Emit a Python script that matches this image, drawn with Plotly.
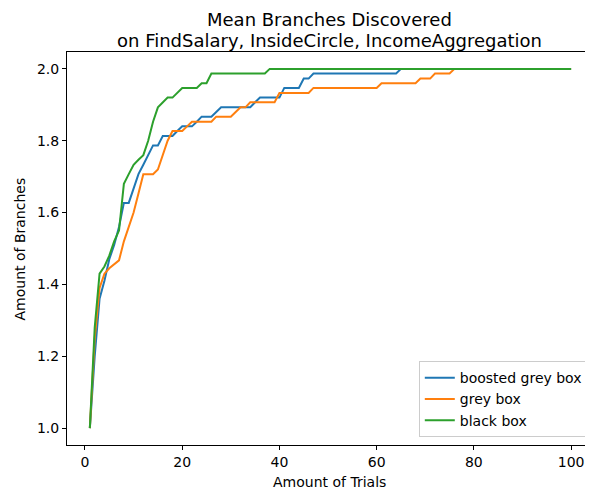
import plotly.graph_objects as go

trials = list(range(1, 101))

boosted_grey_box = (
    [1.0, 1.2, 1.36, 1.41, 1.47, 1.51, 1.56, 1.627, 1.627, 1.667,
     1.707, 1.733, 1.76, 1.787, 1.787, 1.813, 1.813, 1.813, 1.827, 1.84,
     1.84, 1.84, 1.853, 1.867, 1.867, 1.867, 1.88]
    + [1.893] * 7          # 28-34
    + [1.907]              # 35
    + [1.92] * 5           # 36-40
    + [1.947] * 4          # 41-44
    + [1.973] * 2          # 45-46
    + [1.987] * 18         # 47-64
    + [2.0] * 36           # 65-100
)

grey_box = (
    [1.0, 1.25, 1.39, 1.43, 1.445, 1.455, 1.467, 1.52, 1.56, 1.6,
     1.653, 1.707, 1.707, 1.707, 1.72, 1.76, 1.8, 1.827, 1.827, 1.827,
     1.84]
    + [1.853] * 5          # 22-26
    + [1.867] * 4          # 27-30
    + [1.88]               # 31
    + [1.893] * 2          # 32-33
    + [1.907] * 6          # 34-39
    + [1.933] * 7          # 40-46
    + [1.947] * 14         # 47-60
    + [1.96] * 8           # 61-68
    + [1.973] * 3          # 69-71
    + [1.987] * 4          # 72-75
    + [2.0] * 25           # 76-100
)

black_box = (
    [1.0, 1.28, 1.43, 1.45, 1.48, 1.52, 1.55, 1.68, 1.707, 1.733,
     1.747, 1.76, 1.8, 1.853, 1.893, 1.907, 1.92, 1.92, 1.933, 1.947,
     1.947, 1.947, 1.947, 1.96, 1.96]
    + [1.987] * 12         # 26-37
    + [2.0] * 63           # 38-100
)

series = [
    ("boosted grey box", boosted_grey_box, "#1f77b4"),
    ("grey box", grey_box, "#ff7f0e"),
    ("black box", black_box, "#2ca02c"),
]

title_lines = ["Mean Branches Discovered", "on FindSalary, InsideCircle, IncomeAggregation"]
x_title = "Amount of Trials"
y_title = "Amount of Branches"

fig = go.Figure()
for name, vals, color in series:
    fig.add_trace(go.Scatter(x=trials, y=vals, mode="lines", name=name,
                             line=dict(color=color, width=2)))

font = "DejaVu Sans"
axis_common = dict(
    showline=True, linecolor="black", linewidth=1, mirror=True,
    ticks="outside", ticklen=4, tickcolor="black", tickwidth=1,
    showgrid=False, zeroline=False, automargin=False,
    tickfont=dict(family=font, size=14, color="black"),
)

# page body has an 8px margin, so the figure is drawn 8px smaller and offset
W, H = 585, 481
L, R, T, B = 59, 1, 44, 44

title_annots = [
    dict(text=line, xref="paper", yref="paper", x=0.5, y=1.0, yshift=shift,
         xanchor="center", yanchor="middle", showarrow=False,
         font=dict(family=font, size=18, color="black"))
    for line, shift in zip(title_lines, [33, 12])
]

fig.update_layout(
    width=W, height=H,
    margin=dict(l=L, r=R, t=T, b=B, autoexpand=False),
    plot_bgcolor="white", paper_bgcolor="white",
    font=dict(family=font, size=14, color="black"),
    xaxis=dict(range=[-3.7, 104.3], tickvals=[0, 20, 40, 60, 80, 100],
               **axis_common),
    yaxis=dict(range=[0.953, 2.047], tickvals=[1.0, 1.2, 1.4, 1.6, 1.8, 2.0],
               tickformat=".1f", **axis_common),
    legend=dict(
        x=0.992, y=0.02, xanchor="right", yanchor="bottom",
        bgcolor="rgba(255,255,255,0.8)", bordercolor="#cccccc", borderwidth=1,
        font=dict(family=font, size=14, color="black"),
        itemwidth=30, tracegroupgap=0,
    ),
    showlegend=True,
    annotations=title_annots + [
        dict(text=x_title, xref="paper", yref="paper", x=0.5, y=0, yshift=-27,
             xanchor="center", yanchor="top", showarrow=False,
             font=dict(family=font, size=14, color="black")),
        dict(text=y_title, xref="paper", yref="paper", x=0, xshift=-38, y=0.5,
             xanchor="right", yanchor="middle", textangle=-90, showarrow=False,
             font=dict(family=font, size=14, color="black")),
    ],
)

fig.write_html("out.html")
